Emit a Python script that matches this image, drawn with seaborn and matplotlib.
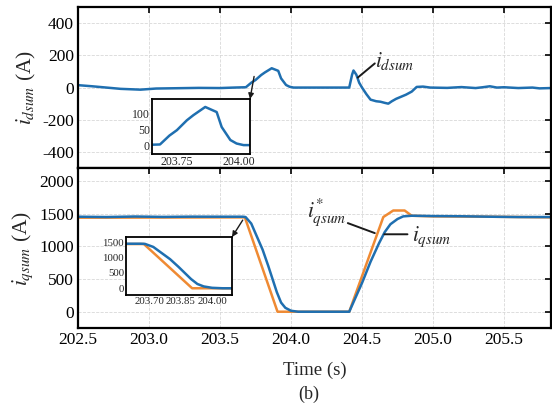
import numpy as np
import pandas as pd
import matplotlib
matplotlib.use("Agg")
import matplotlib.pyplot as plt
import seaborn as sns

# 数据：d轴电流
t_d = [202.50, 202.60, 202.70, 202.80, 202.94, 203.05, 203.20, 203.35, 203.50, 203.60, 203.682,
       203.72, 203.75, 203.79, 203.816, 203.864, 203.91, 203.93, 203.965, 203.99, 204.018,
       204.10, 204.20, 204.30, 204.41, 204.43, 204.44, 204.46, 204.48, 204.50, 204.53, 204.56,
       204.60, 204.63, 204.66, 204.685, 204.71, 204.74, 204.81, 204.85, 204.885, 204.93, 204.98,
       205.10, 205.20, 205.30, 205.35, 205.40, 205.45, 205.50, 205.60, 205.70, 205.75, 205.83]
i_dsum = [15, 8, 0, -8, -13, -6, -4, -2, -3, 0, 2,
          30, 47, 78, 94, 120, 104, 57, 16, 5, 0,
          0, 0, 0, 0, 80, 106, 80, 30, 0, -40, -75,
          -85, -88, -95, -100, -85, -70, -44, -25, 4, 6, 0,
          -2, 3, -3, 2, 8, 0, 2, -3, 0, -5, -3]

# 数据：q轴电流及其参考值
t_qref = [202.50, 203.675, 203.905, 204.41, 204.65, 204.72, 204.80, 204.85, 205.00, 205.40, 205.83]
i_qref = [1440, 1445, 0, 0, 1450, 1550, 1550, 1470, 1460, 1455, 1445]

t_q = [202.50, 202.70, 202.90, 203.10, 203.30, 203.50, 203.66, 203.68, 203.72, 203.76, 203.80,
       203.84, 203.87, 203.90, 203.93, 203.96, 204.00, 204.05, 204.41, 204.50, 204.56, 204.62,
       204.66, 204.70, 204.75, 204.79, 204.85, 205.00, 205.20, 205.40, 205.60, 205.83]
i_qsum = [1455, 1450, 1458, 1452, 1456, 1455, 1455, 1450, 1350, 1150, 950,
          700, 500, 300, 140, 60, 15, 0, 0, 440, 765, 1050,
          1220, 1340, 1420, 1460, 1470, 1465, 1462, 1455, 1450, 1450]

blue = '#1f6fb0'
orange = '#ef8a33'

sns.set_theme(style="white")
plt.rcParams['font.family'] = ['Liberation Serif', 'DejaVu Serif']
plt.rcParams['mathtext.fontset'] = 'stix'
plt.rcParams['axes.unicode_minus'] = False

fig = plt.figure(figsize=(5.52, 4.04), dpi=100)
ax1 = fig.add_axes([0.1413, 0.584, 0.8567, 0.3985])
ax2 = fig.add_axes([0.1413, 0.188, 0.8567, 0.396])

xticks = [202.5, 203.0, 203.5, 204.0, 204.5, 205.0, 205.5]


def style_main(ax):
    for s in ax.spines.values():
        s.set_linewidth(1.6)
        s.set_color('black')
    ax.tick_params(direction='in', length=4, width=1.2, top=True, right=True,
                   labelsize=12.5, colors='black', pad=3)
    ax.grid(True, linestyle='--', color='#d8d8d8', linewidth=0.6)
    ax.set_xticks(xticks)
    ax.set_xlim(202.5, 205.83)


def style_inset(ax, size):
    for s in ax.spines.values():
        s.set_linewidth(1.3)
        s.set_color('black')
    ax.tick_params(direction='in', length=2, width=0.8, labelsize=size, pad=1.5)
    ax.set_facecolor('white')


# 上图
sns.lineplot(x=t_d, y=i_dsum, ax=ax1, color=blue, lw=1.8)
style_main(ax1)
ax1.set_ylim(-500, 500)
ax1.set_yticks([-400, -200, 0, 200, 400])
ax1.set_xticklabels([])
ax1.set_ylabel(r'$i_{dsum}$ (A)', fontsize=15.5, labelpad=3)
ax1.text(204.59, 165, r'$i_{dsum}$', fontsize=15.5, va='center', ha='left')
ax1.annotate('', xy=(204.47, 62), xytext=(204.59, 150),
             arrowprops=dict(arrowstyle='-', color='k', lw=1.4, shrinkA=0, shrinkB=0))

# 上图局部放大
in1 = fig.add_axes([0.2754, 0.6188, 0.1775, 0.1361])
sns.lineplot(x=t_d, y=i_dsum, ax=in1, color=blue, lw=1.8)
style_inset(in1, 8.5)
in1.set_xlim(203.65, 204.044)
in1.set_ylim(-28, 145)
in1.set_xticks([203.75, 204.00])
in1.set_xticklabels(['203.75', '204.00'])
in1.set_yticks([0, 50, 100])
ax1.annotate('', xy=(1, 1), xycoords=in1, xytext=(203.74, 69), textcoords='data',
             arrowprops=dict(arrowstyle='-|>', color='k', lw=1.0, mutation_scale=8,
                             shrinkA=0, shrinkB=0))

# 下图
sns.lineplot(x=t_qref, y=i_qref, ax=ax2, color=orange, lw=1.8)
sns.lineplot(x=t_q, y=i_qsum, ax=ax2, color=blue, lw=1.8)
style_main(ax2)
ax2.set_ylim(-250, 2200)
ax2.set_yticks([0, 500, 1000, 1500, 2000])
ax2.set_xticklabels([f'{v:.1f}' for v in xticks])
ax2.set_ylabel(r'$i_{qsum}$ (A)', fontsize=15.5, labelpad=3)
ax2.text(204.25, 1510, r'$i_{qsum}^{*}$', fontsize=15.5, va='center', ha='center')
ax2.annotate('', xy=(204.59, 1204), xytext=(204.40, 1357),
             arrowprops=dict(arrowstyle='-', color='k', lw=1.4, shrinkA=0, shrinkB=0))
ax2.text(204.85, 1143, r'$i_{qsum}$', fontsize=15.5, va='center', ha='left')
ax2.annotate('', xy=(204.657, 1186), xytext=(204.82, 1186),
             arrowprops=dict(arrowstyle='-', color='k', lw=1.4, shrinkA=0, shrinkB=0))

# 下图局部放大
in2 = fig.add_axes([0.2283, 0.2698, 0.192, 0.1436])
sns.lineplot(x=t_qref, y=i_qref, ax=in2, color=orange, lw=1.8)
sns.lineplot(x=t_q, y=i_qsum, ax=in2, color=blue, lw=1.8)
style_inset(in2, 7.8)
in2.set_xlim(203.59, 204.095)
in2.set_ylim(-220, 1675)
in2.set_xticks([203.70, 203.85, 204.00])
in2.set_xticklabels(['203.70', '203.85', '204.00'])
in2.set_yticks([0, 500, 1000, 1500])
ax2.annotate('', xy=(1, 1), xycoords=in2, xytext=(203.66, 1403), textcoords='data',
             arrowprops=dict(arrowstyle='-|>', color='k', lw=1.0, mutation_scale=8,
                             shrinkA=0, shrinkB=0))

fig.text(0.57, 1 - 370 / 404, 'Time (s)', fontsize=13.5, ha='center', va='center')
fig.text(0.56, 1 - 394 / 404, '(b)', fontsize=13, ha='center', va='center')

fig.savefig('out.png', dpi=100)
